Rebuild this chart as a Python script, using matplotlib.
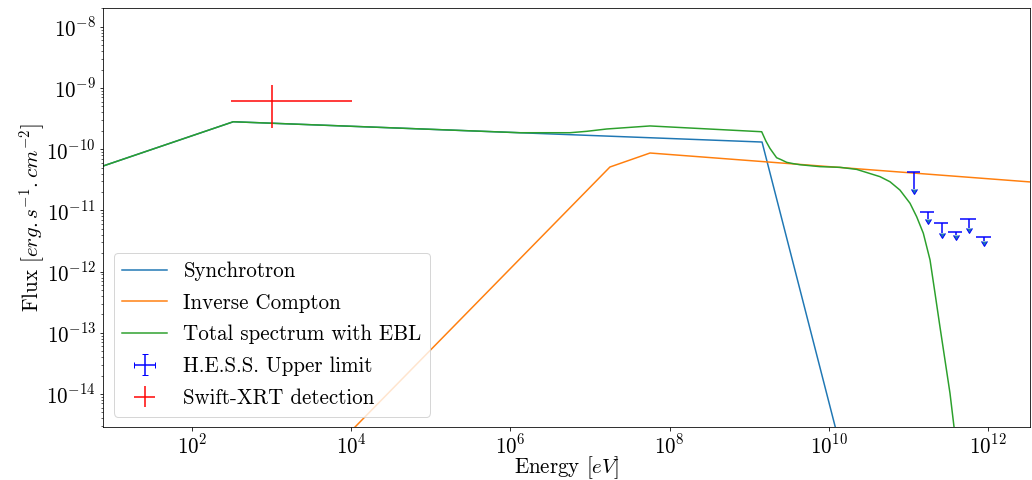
import matplotlib
matplotlib.use("Agg")
import matplotlib.pyplot as plt

plt.rcParams.update({
    "font.family": "serif",
    "font.serif": ["cmr10"],
    "mathtext.fontset": "cm",
    "axes.formatter.use_mathtext": True,
    "axes.unicode_minus": False,
    "font.size": 21,
})

# model curves (energy in eV, flux in erg/s/cm2)
sync_E = [7.62, 330, 1.45e9, 1.6e10]
sync_F = [5.31e-11, 2.81e-10, 1.31e-10, 6.9e-16]

ic_E = [3.2e3, 1.78e7, 5.68e7, 3.37e12]
ic_F = [5.5e-16, 5.12e-11, 8.67e-11, 2.92e-11]

tot_E = [7.62, 330, 1.32e6, 5.61e6, 9.08e6, 1.62e7, 5.68e7, 1.435e9, 1.62e9,
         1.82e9, 2.0e9, 2.21e9, 2.51e9, 2.96e9, 3.55e9, 4.35e9, 7.74e9, 1.38e10,
         2.24e10, 4.40e10, 5.87e10, 7.83e10, 1.047e11, 1.27e11, 1.54e11,
         1.87e11, 2.16e11, 2.49e11, 2.88e11, 3.33e11, 3.74e11, 4.47e11]
tot_F = [5.31e-11, 2.81e-10, 1.86e-10, 1.86e-10, 1.96e-10, 2.14e-10, 2.40e-10,
         1.93e-10, 1.36e-10, 1.035e-10, 8.7e-11, 7.26e-11, 6.76e-11, 6.10e-11,
         5.82e-11, 5.58e-11, 5.19e-11, 5.06e-11, 4.68e-11, 3.56e-11, 2.94e-11,
         2.15e-11, 1.31e-11, 7.89e-12, 4.23e-12, 1.55e-12, 4.42e-13, 1.26e-13,
         3.6e-14, 1.03e-14, 2.92e-15, 6.3e-16]

# H.E.S.S. upper limits
hess_E = [1.175e11, 1.746e11, 2.64e11, 3.93e11, 5.77e11, 8.91e11]
hess_Eerr = [2.25e10, 3.3e10, 5.3e10, 7.9e10, 1.37e11, 1.87e11]
hess_F = [4.2e-11, 9.3e-12, 6.15e-12, 4.38e-12, 7.16e-12, 3.63e-12]
hess_Ferr = [2.0e-11, 2.1e-12, 1.9e-12, 0.46e-12, 2.06e-12, 0.5e-12]

# Swift-XRT point
xrt_E = [1.0e3]
xrt_Eerr = [[690], [9200]]
xrt_F = [6.2e-10]
xrt_Ferr = [[3.95e-10], [5.0e-10]]

fig = plt.figure(figsize=(1032 / 72, 480 / 72), dpi=72)
ax = fig.add_axes([103 / 1032, 1 - 427 / 480, 927 / 1032, 419 / 480])

ax.plot(sync_E, sync_F, label="Synchrotron")
ax.plot(ic_E, ic_F, label="Inverse Compton")
ax.plot(tot_E, tot_F, label="Total spectrum with EBL")
ax.errorbar(hess_E, hess_F, xerr=hess_Eerr, yerr=hess_Ferr, uplims=True,
            fmt="none", ecolor="b", label="H.E.S.S. Upper limit")
ax.errorbar(xrt_E, xrt_F, xerr=xrt_Eerr, yerr=xrt_Ferr, fmt="none",
            ecolor="r", label="Swift-XRT detection")

ax.set_xscale("log")
ax.set_yscale("log")
ax.set_xlim(7.62, 3.37e12)
ax.set_ylim(2.89e-15, 2.03e-8)
ax.set_xlabel("Energy $[eV]$", labelpad=-3)
ax.set_ylabel("Flux $[erg{.}s^{-1}{.}cm^{-2}]$", labelpad=-1)
ax.legend(loc="lower left", handlelength=2.17, handletextpad=0.76,
          labelspacing=0.585)

fig.savefig("out.png", dpi=72)
